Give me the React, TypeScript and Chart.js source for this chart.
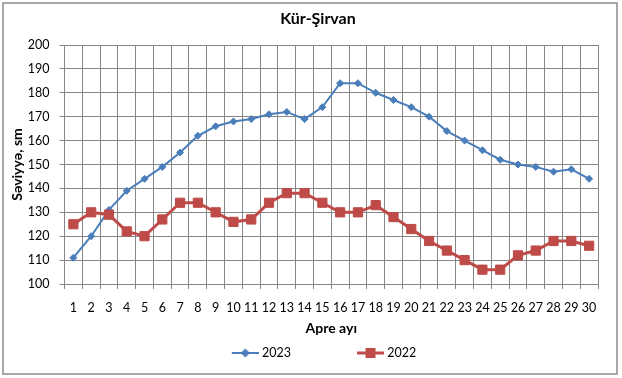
import React, { useEffect, useRef } from 'react';
import { Chart, registerables } from 'chart.js';

Chart.register(...registerables);

const TITLE = 'Kür-Şirvan';
const X_TITLE = 'Apre ayı';
const Y_TITLE = 'Səviyyə, sm';

const DAYS = ['1', '2', '3', '4', '5', '6', '7', '8', '9', '10', '11', '12', '13', '14', '15', '16', '17', '18', '19', '20', '21', '22', '23', '24', '25', '26', '27', '28', '29', '30'];
const SERIES_2023 = [111, 120, 131, 139, 144, 149, 155, 162, 166, 168, 169, 171, 172, 169, 174, 184, 184, 180, 177, 174, 170, 164, 160, 156, 152, 150, 149, 147, 148, 144];
const SERIES_2022 = [125, 130, 129, 122, 120, 127, 134, 134, 130, 126, 127, 134, 138, 138, 134, 130, 130, 133, 128, 123, 118, 114, 110, 106, 106, 112, 114, 118, 118, 116];
const LABEL_2023 = '2023';
const LABEL_2022 = '2022';

const Y_MIN = 100;
const Y_MAX = 200;
const Y_STEP = 10;

const BLUE = '#4A7EBB';
const RED = '#BE4B48';
const GRID = '#868686';
const FONT = 'Lato, "Liberation Sans", sans-serif';

function legendIcon(color: string, lineWidth: number, marker: 'diamond' | 'square') {
  const c = document.createElement('canvas');
  c.width = 80;
  c.height = 14;
  const g = c.getContext('2d')!;
  g.strokeStyle = color;
  g.lineWidth = lineWidth;
  g.beginPath();
  g.moveTo(53, 7);
  g.lineTo(80, 7);
  g.stroke();
  g.fillStyle = color;
  if (marker === 'diamond') {
    g.beginPath();
    g.moveTo(66.5, 2.5);
    g.lineTo(71, 7);
    g.lineTo(66.5, 11.5);
    g.lineTo(62, 7);
    g.closePath();
    g.fill();
  } else {
    g.fillRect(61.5, 2, 10, 10);
  }
  return c;
}

const framePlugin = {
  id: 'frameAndTitle',
  beforeDraw(chart: any) {
    const ctx = chart.ctx;
    ctx.save();
    ctx.fillStyle = '#ffffff';
    ctx.fillRect(0, 0, chart.width, chart.height);
    ctx.strokeStyle = '#8a8a8a';
    ctx.lineWidth = 1.5;
    ctx.strokeRect(3, 3, 614, 371);
    ctx.restore();
  },
  afterDraw(chart: any) {
    const ctx = chart.ctx;
    ctx.save();
    ctx.fillStyle = '#000000';
    ctx.font = `bold 16px ${FONT}`;
    ctx.textAlign = 'center';
    ctx.textBaseline = 'middle';
    ctx.fillText(TITLE, 318, 19);
    ctx.restore();
  },
};

export default function App() {
  const ref = useRef<HTMLCanvasElement>(null);

  useEffect(() => {
    if (!ref.current) return;
    const icons = [legendIcon(BLUE, 2, 'diamond'), legendIcon(RED, 3, 'square')];
    const chart = new Chart(ref.current, {
      type: 'line',
      data: {
        labels: DAYS,
        datasets: [
          {
            label: LABEL_2023,
            data: SERIES_2023,
            borderColor: BLUE,
            backgroundColor: BLUE,
            borderWidth: 2,
            pointStyle: 'rectRot',
            pointRadius: 3.5,
            pointBorderWidth: 1,
            pointBackgroundColor: BLUE,
            pointBorderColor: BLUE,
            tension: 0,
            order: 1,
          },
          {
            label: LABEL_2022,
            data: SERIES_2022,
            borderColor: RED,
            backgroundColor: RED,
            borderWidth: 3,
            pointStyle: 'rect',
            pointRadius: 6.5,
            pointBorderWidth: 1,
            pointBackgroundColor: RED,
            pointBorderColor: RED,
            tension: 0,
            order: 0,
          },
        ],
      },
      options: {
        responsive: false,
        animation: false,
        layout: { padding: { top: 45, right: 24, bottom: 8.75, left: 0 } },
        plugins: {
          title: { display: false },
          tooltip: { enabled: false },
          legend: {
            position: 'bottom',
            labels: {
              usePointStyle: true,
              pointStyleWidth: 74,
              padding: 16,
              color: '#000',
              font: { family: FONT, size: 12.5 },
              generateLabels: (c: any) =>
                c.data.datasets.map((ds: any, i: number) => ({
                  text: ds.label,
                  pointStyle: icons[i],
                  fillStyle: ds.borderColor,
                  strokeStyle: ds.borderColor,
                  lineWidth: 0,
                  hidden: false,
                  datasetIndex: i,
                  fontColor: '#000',
                })),
            },
          },
        },
        scales: {
          x: {
            type: 'category',
            offset: true,
            grid: {
              display: true,
              drawOnChartArea: true,
              offset: true,
              color: GRID,
              lineWidth: 1,
              tickLength: 5,
              drawTicks: true,
            },
            border: { color: GRID },
            ticks: {
              autoSkip: false,
              maxRotation: 0,
              minRotation: 0,
              padding: 11,
              color: '#000',
              font: { family: FONT, size: 12.5 },
            },
            title: {
              display: true,
              text: X_TITLE,
              color: '#000',
              font: { family: FONT, size: 14, weight: 'bold' },
              padding: { top: 0, bottom: -6 },
            },
            afterFit: (s: any) => {
              s.height = 46.75;
            },
          },
          y: {
            min: Y_MIN,
            max: Y_MAX,
            grid: { color: GRID, lineWidth: 1, tickLength: 5, drawTicks: true },
            border: { color: GRID },
            ticks: {
              stepSize: Y_STEP,
              padding: 10,
              color: '#000',
              font: { family: FONT, size: 12.5 },
            },
            title: {
              display: true,
              text: Y_TITLE,
              color: '#000',
              font: { family: FONT, size: 14, weight: 'bold' },
              padding: { top: 9, bottom: 0 },
            },
            afterFit: (s: any) => {
              s.width = 64.5;
            },
          },
        },
      },
      plugins: [framePlugin],
    } as any);
    return () => chart.destroy();
  }, []);

  return (
    <div style={{ position: 'fixed', left: 0, top: 0, width: 622, height: 378, background: '#fff' }}>
      <canvas ref={ref} width={622} height={378} style={{ display: 'block', width: 622, height: 378 }} />
    </div>
  );
}
